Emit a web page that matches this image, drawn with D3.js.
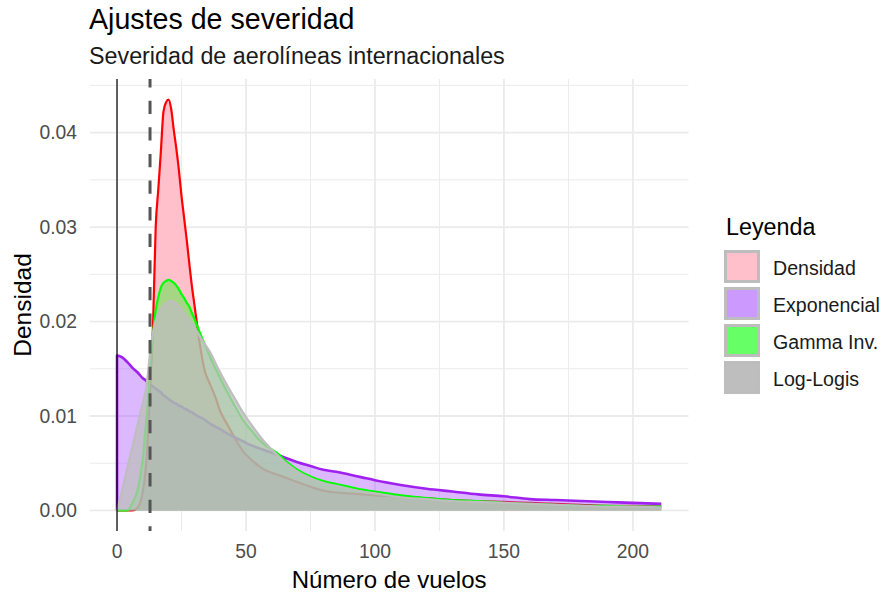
<!DOCTYPE html>
<html>
<head>
<meta charset="utf-8">
<script src="https://cdn.jsdelivr.net/npm/d3@7"></script>
<style>
  body { margin: 0; background: #fff; }
  text { font-family: "Liberation Sans", Arial, sans-serif; }
</style>
</head>
<body>
<div id="chart"></div>
<script>
// valores
var xs = [0, 2, 4, 6, 8, 10, 11, 12, 13, 14, 15, 16, 17, 18, 19, 20, 21, 22, 23, 24, 25, 26, 27, 28, 29, 30,
    32, 34, 36, 38, 40, 43, 46, 49, 52, 55, 58, 62, 66, 70, 75, 80, 85, 90, 95, 100,
    110, 120, 130, 140, 150, 160, 170, 180, 190, 200, 211];

var densidad = [0, 0, 0, 0, 0.0003, 0.002, 0.004, 0.008, 0.014, 0.020, 0.030, 0.034, 0.038, 0.0422, 0.0432, 0.0435,
    0.0425, 0.0403, 0.0383, 0.036, 0.0333, 0.031, 0.0287, 0.0262, 0.0238, 0.0218,
    0.0178, 0.0148, 0.0134, 0.0121, 0.0105, 0.0090, 0.0075, 0.0062, 0.0054, 0.0047, 0.0042,
    0.0038, 0.0034, 0.0030, 0.0025, 0.0021, 0.0019, 0.0018, 0.0017, 0.0016,
    0.0015, 0.0013, 0.0011, 0.0010, 0.0009, 0.0008, 0.0007, 0.0006, 0.0005, 0.0005, 0.0004];

var exponencial = [0.0164, 0.0162, 0.0157, 0.0151, 0.0146, 0.0140, 0.0138, 0.0135, 0.0133, 0.0131, 0.0129, 0.0127,
    0.0125, 0.0122, 0.0120, 0.0118, 0.0116, 0.0114, 0.0113, 0.0111, 0.0110, 0.0108, 0.0107, 0.0105, 0.0104, 0.0102,
    0.0099, 0.0096, 0.0092, 0.0089, 0.0086, 0.0081, 0.0077, 0.0073, 0.0069, 0.0066, 0.0063,
    0.0059, 0.0055, 0.0051, 0.0047, 0.0043, 0.0041, 0.0038, 0.0035, 0.0032,
    0.0027, 0.0023, 0.0020, 0.0017, 0.0015, 0.0012, 0.0011, 0.0010, 0.0009, 0.0008, 0.0007];

var gammaInv = [0, 0, 0, 0.0008, 0.0022, 0.0055, 0.0085, 0.0115, 0.0155, 0.0188, 0.0212, 0.0226, 0.0236, 0.0241,
    0.0243, 0.0244, 0.0243, 0.0241, 0.0238, 0.0234, 0.0229, 0.0225, 0.0220, 0.0216, 0.0209, 0.0203,
    0.0189, 0.0176, 0.0163, 0.0151, 0.0140, 0.0124, 0.0109, 0.0095, 0.0085, 0.0075, 0.0068,
    0.0061, 0.0051, 0.0043, 0.0036, 0.0031, 0.0028, 0.0025, 0.0022, 0.0020,
    0.0016, 0.0013, 0.0011, 0.0010, 0.0008, 0.0007, 0.0006, 0.0005, 0.0005, 0.0004, 0.0004];

var logLogis = [0, 0.0022, 0.0045, 0.0068, 0.0091, 0.0114, 0.0125, 0.0145, 0.0172, 0.0189, 0.0201, 0.0208, 0.0213,
    0.0217, 0.0219, 0.0221, 0.0222, 0.0221, 0.0219, 0.0216, 0.0213, 0.0209, 0.0205, 0.0202, 0.0198, 0.0194,
    0.0185, 0.0176, 0.0168, 0.0157, 0.0146, 0.0131, 0.0117, 0.0103, 0.0091, 0.0080, 0.0070,
    0.0059, 0.0049, 0.0041, 0.0034, 0.0029, 0.0026, 0.0023, 0.0020, 0.0018,
    0.0014, 0.0012, 0.0010, 0.0009, 0.0008, 0.0007, 0.0006, 0.0005, 0.0004, 0.0004, 0.0003];

var seriesNames = ["Densidad", "Exponencial", "Gamma Inv.", "Log-Logis"];
var xTicks = [0, 50, 100, 150, 200];
var yTicks = [0, 0.01, 0.02, 0.03, 0.04];
var umbral = 12.8;

// estilos
var fills = ["#ffc0cb", "#a64dff", "#00ff00", "#bebebe"];
var fillAlpha = [1, 0.4, 0.35, 0.75];
var strokes = ["#ff0000", "#a020f0", "#00ff00", "#bebebe"];
var strokeW = [2.2, 2.6, 2.2, 2.2];
var keyFills = ["#ffc0cb", "#cc99ff", "#66ff66", "#bebebe"];

var width = 883, height = 593;
var panel = { left: 89.8, right: 688.5, top: 79, bottom: 531 };

var svg = d3.select('#chart').append('svg')
    .attr('width', width)
    .attr('height', height);

var allSeries = [densidad, exponencial, gammaInv, logLogis];
var xMax = d3.max(xs), yMax = d3.max(allSeries, function (s) { return d3.max(s); });
var xPad = xMax * 0.05, yPad = yMax * 0.05;

var x = d3.scaleLinear().domain([-xPad, xMax + xPad]).range([panel.left, panel.right]);
var y = d3.scaleLinear().domain([-yPad, yMax + yPad]).range([panel.bottom, panel.top]);

// grid
var grid = svg.append('g').attr('class', 'grid');
var xMinor = [25, 75, 125, 175];
var yMinor = [0.005, 0.015, 0.025, 0.035, 0.045];

grid.selectAll('.ymin').data(yMinor).enter().append('line')
    .attr('x1', panel.left).attr('x2', panel.right)
    .attr('y1', function (d) { return y(d); }).attr('y2', function (d) { return y(d); })
    .attr('stroke', '#ebebeb').attr('stroke-width', 1);
grid.selectAll('.xmin').data(xMinor).enter().append('line')
    .attr('y1', panel.top).attr('y2', panel.bottom)
    .attr('x1', function (d) { return x(d); }).attr('x2', function (d) { return x(d); })
    .attr('stroke', '#ebebeb').attr('stroke-width', 1);
grid.selectAll('.ymaj').data(yTicks).enter().append('line')
    .attr('x1', panel.left).attr('x2', panel.right)
    .attr('y1', function (d) { return y(d); }).attr('y2', function (d) { return y(d); })
    .attr('stroke', '#ebebeb').attr('stroke-width', 1.8);
grid.selectAll('.xmaj').data(xTicks).enter().append('line')
    .attr('y1', panel.top).attr('y2', panel.bottom)
    .attr('x1', function (d) { return x(d); }).attr('x2', function (d) { return x(d); })
    .attr('stroke', '#ebebeb').attr('stroke-width', 1.8);

// areas + lineas, una capa por serie
var area = d3.area()
    .x(function (d) { return x(d.x); })
    .y0(y(0))
    .y1(function (d) { return y(d.y); })
    .curve(d3.curveMonotoneX);

var line = d3.line()
    .x(function (d) { return x(d.x); })
    .y(function (d) { return y(d.y); })
    .curve(d3.curveMonotoneX);

allSeries.forEach(function (s, i) {
    var pts = xs.map(function (xv, j) { return { x: xv, y: s[j] }; });
    var g = svg.append('g').attr('class', 'serie');
    g.append('path')
        .datum(pts)
        .attr('d', area)
        .attr('fill', fills[i])
        .attr('fill-opacity', fillAlpha[i]);
    // contorno desde la base
    var outline = [{ x: xs[0], y: 0 }].concat(pts);
    g.append('path')
        .datum(outline)
        .attr('d', line)
        .attr('fill', 'none')
        .attr('stroke', strokes[i])
        .attr('stroke-width', strokeW[i])
        .attr('stroke-linejoin', 'round');
});

// lineas verticales
svg.append('line')
    .attr('x1', x(0)).attr('x2', x(0))
    .attr('y1', panel.top).attr('y2', panel.bottom)
    .attr('stroke', '#000').attr('stroke-width', 1.2);

svg.append('line')
    .attr('x1', x(umbral)).attr('x2', x(umbral))
    .attr('y1', panel.top).attr('y2', panel.bottom)
    .attr('stroke', '#555').attr('stroke-width', 3)
    .attr('stroke-dasharray', '13.3,13.3')
    .attr('stroke-dashoffset', 4.9);

// ejes (solo etiquetas, theme_minimal)
svg.selectAll('.ytick').data(yTicks).enter().append('text')
    .attr('x', 77)
    .attr('y', function (d) { return y(d) + 6.8; })
    .attr('text-anchor', 'end')
    .attr('font-size', 19.3)
    .attr('fill', '#4d4d4d')
    .text(function (d) { return d3.format('.2f')(d); });

svg.selectAll('.xtick').data(xTicks).enter().append('text')
    .attr('x', function (d) { return x(d); })
    .attr('y', 558)
    .attr('text-anchor', 'middle')
    .attr('font-size', 19.3)
    .attr('fill', '#4d4d4d')
    .text(function (d) { return d; });

svg.append('text')
    .attr('x', (panel.left + panel.right) / 2)
    .attr('y', 588)
    .attr('text-anchor', 'middle')
    .attr('font-size', 24)
    .attr('fill', '#000')
    .text('Número de vuelos');

svg.append('text')
    .attr('transform', 'translate(31,' + ((panel.top + panel.bottom) / 2) + ') rotate(-90)')
    .attr('text-anchor', 'middle')
    .attr('font-size', 24.5)
    .attr('fill', '#000')
    .text('Densidad');

// titulos
svg.append('text')
    .attr('x', 89).attr('y', 29)
    .attr('font-size', 28.6)
    .attr('fill', '#000')
    .text('Ajustes de severidad');

svg.append('text')
    .attr('x', 89).attr('y', 64)
    .attr('font-size', 23.3)
    .attr('fill', '#1a1a1a')
    .text('Severidad de aerolíneas internacionales');

// leyenda
var legend = svg.append('g').attr('class', 'legend');
legend.append('text')
    .attr('x', 726).attr('y', 235)
    .attr('font-size', 23.3)
    .attr('fill', '#000')
    .text('Leyenda');

var keyY = d3.scaleBand().domain(seriesNames).range([248, 248 + 37 * 4]);

var keys = legend.selectAll('.key').data(seriesNames).enter().append('g')
    .attr('class', 'key')
    .attr('transform', function (d) { return 'translate(0,' + keyY(d) + ')'; });

keys.append('rect')
    .attr('x', 725.5).attr('y', 3.5)
    .attr('width', 33).attr('height', 30)
    .attr('fill', function (d, i) { return keyFills[i]; })
    .attr('stroke', '#bdbdbd')
    .attr('stroke-width', 3);

keys.append('text')
    .attr('x', 773).attr('y', 18.5 + 8)
    .attr('font-size', 19.6)
    .attr('fill', '#1a1a1a')
    .text(function (d) { return d; });
</script>
</body>
</html>
